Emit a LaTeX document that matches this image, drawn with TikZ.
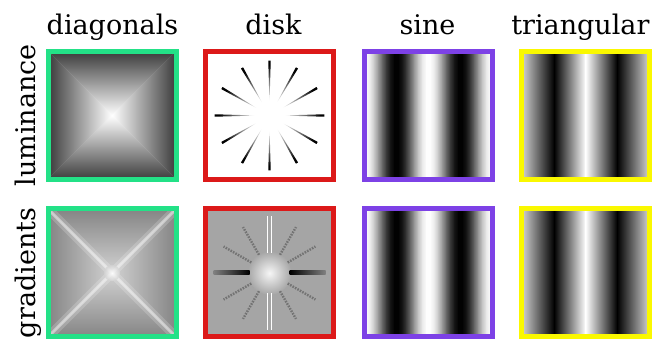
\documentclass[tikz,border=0pt]{standalone}
\usepackage{fontspec}
\setmainfont{DejaVu Serif}
\definecolor{frgreen}{RGB}{35,225,135}
\definecolor{frred}{RGB}{220,25,25}
\definecolor{frpurple}{RGB}{125,65,230}
\definecolor{fryellow}{RGB}{250,248,0}
\definecolor{lumedge}{RGB}{65,65,65}
\definecolor{gradedge}{RGB}{135,135,135}
\definecolor{gradmid}{RGB}{210,210,210}
\definecolor{diskbg}{RGB}{165,165,165}
\definecolor{triedge}{RGB}{200,200,200}
\pgfdeclareradialshading{rayfade}{\pgfpoint{0bp}{0bp}}{rgb(0bp)=(1,1,1); rgb(7bp)=(1,1,1);
  rgb(23bp)=(0,0,0); rgb(50bp)=(0,0,0)}

\begin{document}
\begin{tikzpicture}[x=1pt, y=-1pt,
    panel/.style={draw=#1, line width=5pt, minimum size=128pt, inner sep=0pt},
    collabel/.style={anchor=base, font=\fontsize{27}{30}\selectfont},
    rowlabel/.style={collabel, rotate=90},
    diagray/.style={draw=black!55, line width=2.4pt, dash pattern=on 1.6pt off 1.2pt}
  ]
  \useasboundingbox (0,0) rectangle (654,339);

  \begin{scope}[shift={(112,115.5)}]
    \shade[top color=lumedge, bottom color=white] (-62,-62) -- (62,-62) -- (0,0) -- cycle;
    \shade[top color=white, bottom color=lumedge] (-62,62) -- (62,62) -- (0,0) -- cycle;
    \shade[left color=lumedge, right color=white] (-62,-62) -- (-62,62) -- (0,0) -- cycle;
    \shade[left color=white, right color=lumedge] (62,-62) -- (62,62) -- (0,0) -- cycle;
  \end{scope}
  \begin{scope}[shift={(269.5,115.5)}]
    \clip foreach \a in {0,30,...,330} { (\a-1.3:55) -- (\a:12) -- (\a+1.3:55) -- cycle };
    \shade[shading=rayfade] (0,0) circle (55);
  \end{scope}

  \begin{scope}[shift={(112,273)}]
    \shade[top color=gradedge, bottom color=gradmid] (-62,-62) -- (62,-62) -- (0,0) -- cycle;
    \shade[top color=gradmid, bottom color=gradedge] (-62,62) -- (62,62) -- (0,0) -- cycle;
    \shade[left color=gradedge, right color=gradmid] (-62,-62) -- (-62,62) -- (0,0) -- cycle;
    \shade[left color=gradmid, right color=gradedge] (62,-62) -- (62,62) -- (0,0) -- cycle;
    \draw[white, line width=9pt, opacity=.18] (-62,-62) -- (62,62) (-62,62) -- (62,-62);
    \draw[white, line width=3pt, opacity=.45] (-62,-62) -- (62,62) (-62,62) -- (62,-62);
    \shade[inner color=white, outer color=gradmid, opacity=.8] (0,0) circle (8);
  \end{scope}
  \begin{scope}[shift={(269.5,273)}]
    \fill[diskbg] (-62,-62) rectangle (62,62);
    \shade[inner color=white!90!diskbg, outer color=diskbg] (0,0) circle (22);
    \shade[left color=black, right color=black!50] (20,-2) rectangle (56,2);
    \shade[left color=black!50, right color=black] (-56,-2) rectangle (-20,2);
    \draw[white, line width=.9pt] (-2,-20) -- (-2,-57) (2,-20) -- (2,-57) (-2,20) -- (-2,57) (2,20) -- (2,57);
    \foreach \a in {30,60,120,150,210,240,300,330}
      \draw[diagray] (\a:21) -- (\a:53);
  \end{scope}

  \foreach \y in {115.5,273} {
    \begin{scope}[shift={(428,\y)}]
      \foreach \i in {0,...,30} {
        \pgfmathsetmacro\xa{-62+4*\i}
        \pgfmathsetmacro\xb{\xa+4}
        \pgfmathsetmacro\pa{50-50*cos(5.625*\xa)}
        \pgfmathsetmacro\pb{50-50*cos(5.625*\xb)}
        \shade[left color=black!\pa, right color=black!\pb] (\xa,-62) rectangle (\xb+.4,62);
      }
    \end{scope}
    \begin{scope}[shift={(585.5,\y)}]
      \shade[left color=triedge, right color=black] (-62,-62) rectangle (-31.2,62);
      \shade[left color=black, right color=white] (-31.5,-62) rectangle (.3,62);
      \shade[left color=white, right color=black] (0,-62) rectangle (31.8,62);
      \shade[left color=black, right color=triedge] (31.5,-62) rectangle (62,62);
    \end{scope}
  }

  \node[panel=frgreen] (lumdiag) at (112,115.5) {};
  \node[panel=frred] (lumdisk) at (269.5,115.5) {};
  \node[panel=frpurple] (lumsine) at (428,115.5) {};
  \node[panel=fryellow] (lumtri) at (585.5,115.5) {};
  \node[panel=frgreen] (graddiag) at (112,273) {};
  \node[panel=frred] (graddisk) at (269.5,273) {};
  \node[panel=frpurple] (gradsine) at (428,273) {};
  \node[panel=fryellow] (gradtri) at (585.5,273) {};

  \node[collabel] (diaglabel) at (112.5,35) {diagonals};
  \node[collabel] (disklabel) at (273.5,35) {disk};
  \node[collabel] (sinelabel) at (427.5,35) {sine};
  \node[collabel, anchor=base east] (trilabel) at (653,35) {triangular};
  \node[rowlabel] (lumlabel) at (35,115.5) {luminance};
  \node[rowlabel] (gradlabel) at (35,273) {gradients};
\end{tikzpicture}
\end{document}
